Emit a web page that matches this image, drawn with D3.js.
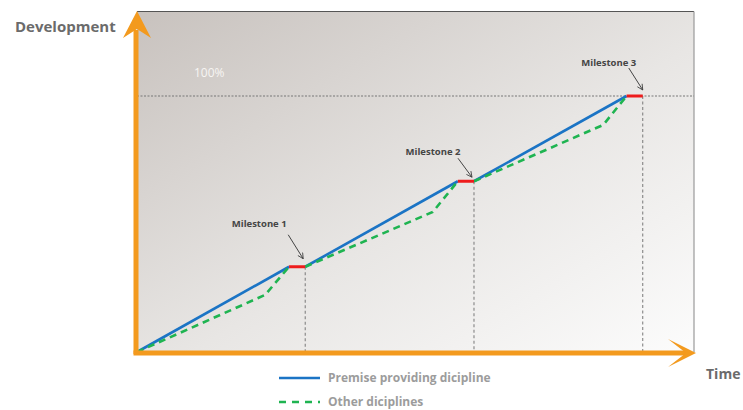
<!DOCTYPE html>
<html>
<head>
<meta charset="utf-8">
<script src="https://cdn.jsdelivr.net/npm/d3@7"></script>
<style>
  body { margin: 0; background: #fff; }
  svg { display: block; font-family: "Open Sans", sans-serif; }
</style>
</head>
<body>
<svg width="743" height="410"></svg>
<script>
// milestone values, time 0-100 and development 0-100 %
var milestones = ["Milestone 1", "Milestone 2", "Milestone 3"];
var msStart = [27.3, 57.6, 87.9];
var msEnd = [30.2, 60.5, 90.8];
var msLevel = [33.3, 66.7, 100];
// where the other diciplines bend before catching up
var kneeX = [23.0, 53.1, 83.7];
var kneeY = [22.3, 54.7, 88.7];
var seriesNames = ["Premise providing dicipline", "Other diciplines"];

var svg = d3.select("svg");
var x = d3.scaleLinear().domain([0, 100]).range([137, 694]);
var y = d3.scaleLinear().domain([0, 100]).range([352, 96]);
var yTop = 133;

// background gradient
var defs = svg.append("defs");
var grad = defs.append("linearGradient").attr("id", "bg")
  .attr("x1", "0%").attr("y1", "0%").attr("x2", "100%").attr("y2", "100%");
grad.append("stop").attr("offset", "0%").attr("stop-color", "#c8c2be");
grad.append("stop").attr("offset", "55%").attr("stop-color", "#e8e6e4");
grad.append("stop").attr("offset", "100%").attr("stop-color", "#fcfcfc");

defs.append("marker").attr("id", "tip")
  .attr("viewBox", "0 0 10 10").attr("refX", 9).attr("refY", 5)
  .attr("markerWidth", 7).attr("markerHeight", 7).attr("orient", "auto")
  .append("path").attr("d", "M1,1 L9,5 L1,9")
  .attr("fill", "none").attr("stroke", "#444").attr("stroke-width", 1.2);

svg.append("rect")
  .attr("x", x(0)).attr("y", y(yTop))
  .attr("width", x(100) - x(0)).attr("height", y(0) - y(yTop))
  .attr("fill", "url(#bg)");

// frame: dark top, gray right
svg.append("line").attr("x1", x(0)).attr("x2", x(100))
  .attr("y1", y(yTop)).attr("y2", y(yTop))
  .attr("stroke", "#555").attr("stroke-width", 1.2);
svg.append("line").attr("x1", x(100)).attr("x2", x(100))
  .attr("y1", y(yTop)).attr("y2", y(0))
  .attr("stroke", "#999").attr("stroke-width", 1.2);

// 100% guide
svg.append("line").attr("x1", x(0)).attr("x2", x(100))
  .attr("y1", y(100)).attr("y2", y(100))
  .attr("stroke", "#777").attr("stroke-width", 1).attr("stroke-dasharray", "2,1.5");
svg.append("text").attr("x", 194).attr("y", y(100) - 19)
  .attr("fill", "#f7f5f3").style("font-size", "12px").text("100%");

// vertical guides at the milestone ends
svg.selectAll("line.guide").data(msEnd).enter().append("line")
  .attr("class", "guide")
  .attr("x1", function (d) { return x(d); }).attr("x2", function (d) { return x(d); })
  .attr("y1", function (d, i) { return y(msLevel[i]); }).attr("y2", y(0))
  .attr("stroke", "#777").attr("stroke-width", 1).attr("stroke-dasharray", "3,2.5");

var line = d3.line().x(function (d) { return x(d[0]); }).y(function (d) { return y(d[1]); });

// blue and green segments between milestones
msStart.forEach(function (s, i) {
  var px = i === 0 ? 0 : msEnd[i - 1];
  var py = i === 0 ? 0 : msLevel[i - 1];
  svg.append("path").attr("d", line([[px, py], [s, msLevel[i]]]))
    .attr("fill", "none").attr("stroke", "#1b74c5").attr("stroke-width", 2.6);
  svg.append("path").attr("d", line([[px, py], [kneeX[i], kneeY[i]], [s, msLevel[i]]]))
    .attr("fill", "none").attr("stroke", "#1fb451").attr("stroke-width", 2.6)
    .attr("stroke-dasharray", "7,5");
});

// red milestone bars
svg.selectAll("line.ms").data(msStart).enter().append("line")
  .attr("class", "ms")
  .attr("x1", function (d) { return x(d); })
  .attr("x2", function (d, i) { return x(msEnd[i]); })
  .attr("y1", function (d, i) { return y(msLevel[i]); })
  .attr("y2", function (d, i) { return y(msLevel[i]); })
  .attr("stroke", "#ee1c1c").attr("stroke-width", 3);

// labels and pointer arrows (pixel offsets from milestone end)
var labelOff = [[-46, -40], [-41, -26], [-34, -30]];
var arrowOff = [[-17, -32, -2, -8], [-16, -23, -2, -4], [-14, -28, 0, -6]];
milestones.forEach(function (m, i) {
  var ex = x(msEnd[i]), ey = y(msLevel[i]);
  svg.append("text")
    .attr("x", ex + labelOff[i][0]).attr("y", ey + labelOff[i][1])
    .attr("text-anchor", "middle").attr("fill", "#454545")
    .style("font-size", "9.5px").style("font-weight", 700)
    .text(m);
  var a = arrowOff[i];
  svg.append("line")
    .attr("x1", ex + a[0]).attr("y1", ey + a[1])
    .attr("x2", ex + a[2]).attr("y2", ey + a[3])
    .attr("stroke", "#444").attr("stroke-width", 1)
    .attr("marker-end", "url(#tip)");
});

// orange axes with arrow heads
var orange = "#f39a1e";
svg.append("line").attr("x1", x(0) - 1).attr("x2", x(0) - 1)
  .attr("y1", y(0) + 2).attr("y2", 30)
  .attr("stroke", orange).attr("stroke-width", 5);
svg.append("path").attr("d", "M137,11 L151,38 L137,29 L123,38 Z").attr("fill", orange);
svg.append("line").attr("x1", x(0) - 3.5).attr("x2", 688)
  .attr("y1", y(0) + 1).attr("y2", y(0) + 1)
  .attr("stroke", orange).attr("stroke-width", 5);
svg.append("path").attr("d", "M696,353 L668,339 L686,353 L668,367 Z").attr("fill", orange);

svg.append("text").attr("x", 15).attr("y", 32)
  .attr("fill", "#6b6b6b").style("font-size", "15px").style("font-weight", 700)
  .text("Development");
svg.append("text").attr("x", 706).attr("y", 379)
  .attr("fill", "#6b6b6b").style("font-size", "14px").style("font-weight", 700)
  .text("Time");

// legend
var legend = svg.append("g").attr("transform", "translate(279,378)");
seriesNames.forEach(function (n, i) {
  legend.append("line").attr("x1", 0).attr("x2", 41)
    .attr("y1", i * 24).attr("y2", i * 24)
    .attr("stroke", i === 0 ? "#1b74c5" : "#1fb451").attr("stroke-width", 2.6)
    .attr("stroke-dasharray", i === 0 ? null : "7,6");
  legend.append("text").attr("x", 49).attr("y", i * 24 + 4)
    .attr("fill", "#9c9c9c").style("font-size", "12px").style("font-weight", 700)
    .text(n);
});
</script>
</body>
</html>
